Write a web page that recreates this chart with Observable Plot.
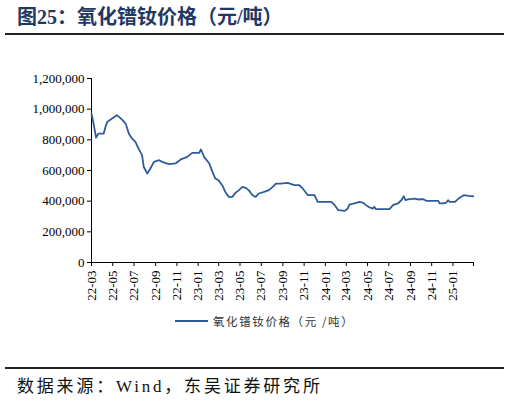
<!DOCTYPE html>
<html>
<head>
<meta charset="utf-8">
<script src="https://cdn.jsdelivr.net/npm/d3@7"></script>
<script src="https://cdn.jsdelivr.net/npm/@observablehq/plot@0.6"></script>
<style>
  body { margin: 0; background: #fff; }
  #page { position: relative; width: 509px; height: 401px; overflow: hidden; }
  #title { position: absolute; left: 17px; top: 1px; font: bold 20px "Liberation Serif", "Noto Sans CJK SC"; color: #1f3864; white-space: nowrap; }
  .rule { position: absolute; left: 5px; width: 499px; height: 2px; background: #222; }
  #chart { position: absolute; left: 0; top: 60px; }
  #chart svg, #chart svg text { font-family: "Liberation Serif", serif !important; }
  #legend { position: absolute; left: 175px; top: 313px; height: 16px; display: flex; align-items: center; font: 11.5px "Noto Sans CJK SC"; letter-spacing: 1.6px; color: #333; white-space: nowrap; }
  #legend .swatch { width: 33px; height: 2px; background: #2e5c9a; margin-right: 5px; }
  #source { position: absolute; left: 17px; top: 372px; font: 17px "Liberation Serif", "Noto Sans CJK SC"; letter-spacing: 2.8px; color: #111; white-space: nowrap; }
</style>
</head>
<body>
<div id="page">
  <div id="title">图25：氧化镨钕价格（元/吨）</div>
  <div class="rule" style="top:33px"></div>
  <div id="chart"></div>
  <div id="legend"><span class="swatch"></span><span>氧化镨钕价格（元 /吨）</span></div>
  <div class="rule" style="top:367px"></div>
  <div id="source">数据来源：Wind，东吴证券研究所</div>
</div>
<script>
// Price of PrNd oxide, yuan/ton
const dates = [
  "2022-03-01", "2022-03-07", "2022-03-14", "2022-03-21", "2022-04-05", "2022-04-10",
  "2022-04-15", "2022-04-29", "2022-05-13", "2022-05-27", "2022-06-07", "2022-06-16",
  "2022-06-25", "2022-07-05", "2022-07-14", "2022-07-24", "2022-07-29", "2022-08-08",
  "2022-08-17", "2022-08-27", "2022-09-11", "2022-09-20", "2022-10-09", "2022-10-28",
  "2022-11-12", "2022-12-01", "2022-12-15", "2023-01-04", "2023-01-09", "2023-01-18",
  "2023-02-02", "2023-02-11", "2023-02-19", "2023-02-28", "2023-03-11", "2023-03-20",
  "2023-03-30", "2023-04-09", "2023-04-18", "2023-04-28", "2023-05-08", "2023-05-17",
  "2023-05-26", "2023-06-06", "2023-06-15", "2023-06-24", "2023-07-09", "2023-07-23",
  "2023-08-03", "2023-08-12", "2023-08-26", "2023-09-15", "2023-10-04", "2023-10-18",
  "2023-10-28", "2023-11-12", "2023-12-01", "2023-12-10", "2024-01-18", "2024-01-28",
  "2024-02-07", "2024-02-26", "2024-03-05", "2024-03-10", "2024-03-24", "2024-04-08",
  "2024-04-17", "2024-04-27", "2024-05-07", "2024-05-16", "2024-05-20", "2024-05-25",
  "2024-07-03", "2024-07-13", "2024-07-27", "2024-08-06", "2024-08-13", "2024-08-18",
  "2024-08-25", "2024-09-14", "2024-09-23", "2024-10-08", "2024-10-17", "2024-11-20",
  "2024-11-24", "2024-12-04", "2024-12-13", "2024-12-18", "2024-12-23", "2025-01-07",
  "2025-01-17", "2025-02-01", "2025-02-15", "2025-02-28"
];
const prices = [
  970000, 906000, 815000, 841000, 841000, 884000,
  917000, 939000, 961000, 933000, 906000, 841000,
  809000, 787000, 743000, 700000, 623000, 580000,
  613000, 656000, 667000, 656000, 641000, 646000,
  672000, 689000, 715000, 715000, 737000, 689000,
  646000, 591000, 548000, 537000, 504000, 460000,
  428000, 428000, 454000, 472000, 493000, 487000,
  472000, 439000, 428000, 450000, 460000, 472000,
  493000, 515000, 515000, 519000, 504000, 504000,
  483000, 439000, 439000, 395000, 395000, 374000,
  341000, 337000, 352000, 378000, 385000, 395000,
  391000, 374000, 359000, 352000, 363000, 348000,
  348000, 374000, 385000, 406000, 432000, 406000,
  411000, 417000, 411000, 413000, 402000, 402000,
  385000, 385000, 391000, 406000, 395000, 395000,
  417000, 439000, 434000, 432000
];
const xTickLabels = [
  "22-03", "22-05", "22-07", "22-09", "22-11", "23-01", "23-03", "23-05", "23-07",
  "23-09", "23-11", "24-01", "24-03", "24-05", "24-07", "24-09", "24-11", "25-01", "25-03"
];
const yTicks = [0, 200000, 400000, 600000, 800000, 1000000, 1200000];

const parseLabel = s => new Date(Date.UTC(2000 + +s.slice(0, 2), +s.slice(3) - 1, 1));
const tickDates = xTickLabels.map(parseLabel);
const rows = dates.map((d, i) => ({date: new Date(d + "T00:00:00Z"), price: prices[i]}));

const xDomain = [tickDates[0], tickDates[tickDates.length - 1]];
const lineColor = "#2e5c9a";

const plot = Plot.plot({
  width: 509,
  height: 250,
  marginTop: 18,
  marginBottom: 48,
  marginLeft: 91,
  marginRight: 36,
  style: {fontFamily: "'Liberation Serif', serif", fontSize: "13px", color: "#000", background: "transparent"},
  x: {type: "utc", domain: xDomain},
  y: {domain: [0, 1200000]},
  marks: [
    Plot.axisY({
      ticks: yTicks,
      tickFormat: d3.format(","),
      tickSize: 4,
      tickPadding: 3,
      label: null
    }),
    Plot.axisX({
      ticks: tickDates,
      // the last tick (25-03) has no label
      tickFormat: (d, i) => i < xTickLabels.length - 1 ? xTickLabels[i] : "",
      tickRotate: -90,
      tickSize: 4,
      tickPadding: 4,
      label: null
    }),
    Plot.ruleY([0], {stroke: "#000"}),
    Plot.ruleX([xDomain[0]], {stroke: "#000"}),
    Plot.line(rows, {x: "date", y: "price", stroke: lineColor, strokeWidth: 1.8})
  ]
});

document.getElementById("chart").appendChild(plot);
</script>
</body>
</html>
